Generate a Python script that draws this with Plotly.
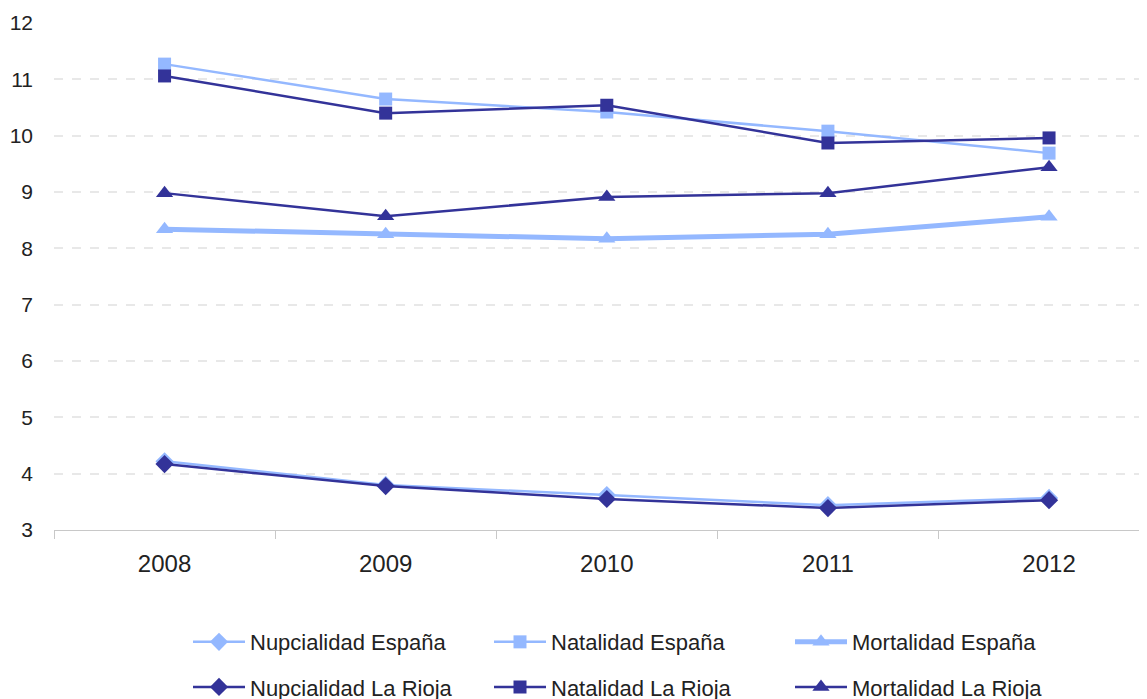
import plotly.graph_objects as go

years = ["2008", "2009", "2010", "2011", "2012"]
nupc_es = [4.22, 3.80, 3.62, 3.44, 3.57]
nat_es = [11.27, 10.65, 10.42, 10.08, 9.69]
mort_es = [8.34, 8.25, 8.17, 8.25, 8.56]
nupc_lr = [4.17, 3.78, 3.55, 3.39, 3.53]
nat_lr = [11.06, 10.40, 10.54, 9.87, 9.96]
mort_lr = [8.98, 8.57, 8.91, 8.98, 9.44]

LIGHT = "#94b8ff"
DARK = "#333399"

series = [
    ("Nupcialidad España", nupc_es, LIGHT, "diamond", 2.5, 14, "legend"),
    ("Natalidad España", nat_es, LIGHT, "square", 2.5, 13, "legend"),
    ("Mortalidad España", mort_es, LIGHT, "triangle-up", 5, 15, "legend"),
    ("Nupcialidad La Rioja", nupc_lr, DARK, "diamond", 2.5, 14, "legend2"),
    ("Natalidad La Rioja", nat_lr, DARK, "square", 2.5, 13, "legend2"),
    ("Mortalidad La Rioja", mort_lr, DARK, "triangle-up", 2.5, 15, "legend2"),
]

fig = go.Figure()
for name, vals, col, sym, w, ms, lg in series:
    fig.add_trace(go.Scatter(
        x=years, y=vals, name=name, mode="lines+markers",
        line=dict(color=col, width=w),
        marker=dict(symbol=sym, size=ms, color=col),
        legend=lg,
    ))

legend_common = dict(
    orientation="h", xanchor="left", yanchor="middle", x=0.1226,
    font=dict(family="Liberation Sans, Arial, sans-serif", size=22, color="#222222"),
    entrywidth=234, entrywidthmode="pixels", itemwidth=52,
    bgcolor="rgba(0,0,0,0)",
)

fig.update_layout(
    width=1147, height=699,
    margin=dict(l=46, r=8, t=15, b=177, autoexpand=False),
    paper_bgcolor="white", plot_bgcolor="white",
    font=dict(family="Liberation Sans, Arial, sans-serif", size=21, color="#222222"),
    showlegend=True,
    legend=dict(y=-0.221, **legend_common),
    legend2=dict(y=-0.31, **legend_common),
    xaxis=dict(
        type="category", range=[-0.5, 4.443],
        showgrid=False, showline=True, linecolor="#c8c8c8", linewidth=1,
        ticks="outside", tickson="boundaries", ticklen=8, tickcolor="#c8c8c8",
        tickfont=dict(size=24), zeroline=False, ticklabelstandoff=12,
    ),
    yaxis=dict(
        range=[3, 12], dtick=1, tick0=3,
        showgrid=True, gridcolor="#e8e8e8", griddash="dash", gridwidth=1.5,
        zeroline=False, showline=False, ticks="", tickfont=dict(size=21),
        ticklabelstandoff=20,
    ),
)

fig.write_html("out.html")
